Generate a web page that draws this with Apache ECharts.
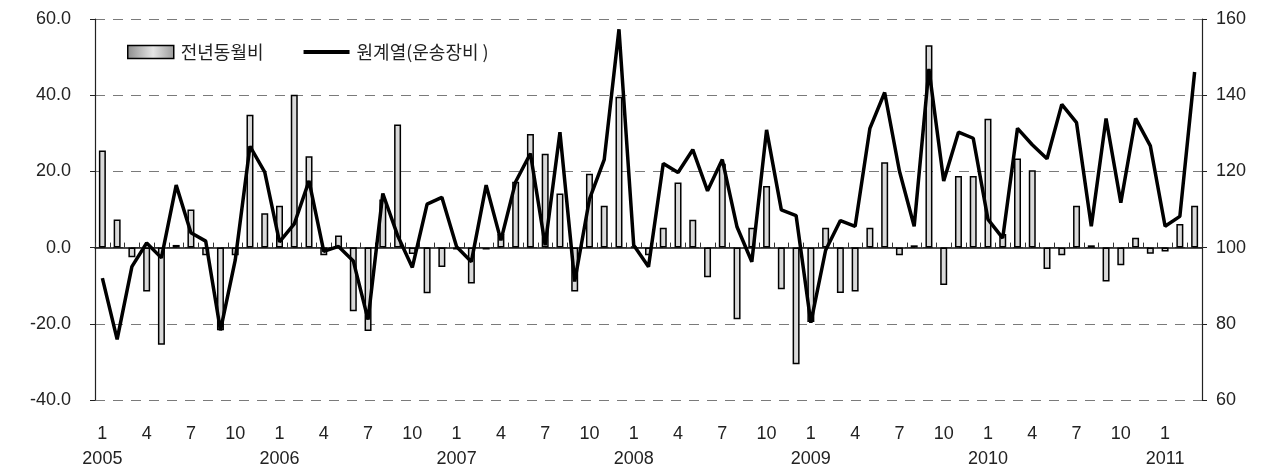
<!DOCTYPE html>
<html>
<head>
<meta charset="utf-8">
<script src="https://cdn.jsdelivr.net/npm/echarts@6/dist/echarts.min.js"></script>
<style>
  html, body { margin: 0; padding: 0; background: #fff; }
  #chart { width: 1264px; height: 472px; }
</style>
</head>
<body>
<div id="chart"></div>
<script>
// 2005.01 ~ 2011.03, monthly
const startYear = 2005;
const monthCount = 75;
const tickMonths = [1, 4, 7, 10];

// 전년동월비 (%), left axis
const yoy = [
  25.5, 7.4, -2.5, -11.5, -25.5, 0.7, 10.0, -2.0, -21.7, -2.0, 34.9, 9.0,
  11.0, 40.1, 24.0, -2.0, 3.2, -16.7, -21.9, 12.6, 32.3, -1.7, -12.0, -5.1,
  -0.5, -9.4, -0.5, 3.6, 17.3, 29.8, 24.6, 14.2, -11.5, 19.4, 11.0, 39.6,
  0.3, -2.0, 5.2, 17.1, 7.3, -7.8, 22.0, -18.8, 5.2, 16.2, -10.9, -30.6,
  -19.5, 5.2, -11.9, -11.5, 5.2, 22.4, -2.0, 0.6, 53.1, -9.8, 18.8, 18.8,
  33.8, 3.6, 23.4, 20.3, -5.6, -2.0, 11.0, 0.6, -8.9, -4.6, 2.6, -1.6,
  -1.0, 6.2, 11.0
];

// 원계열(운송장비), right axis
const raw = [
  92.0, 75.9, 95.0, 101.2, 97.3, 116.4, 103.9, 101.7, 78.3, 96.7, 126.6, 119.8,
  101.5, 106.2, 117.5, 99.0, 100.3, 96.5, 81.1, 114.2, 103.2, 94.8, 111.4, 113.2,
  100.2, 96.3, 116.4, 101.9, 117.3, 124.7, 100.6, 130.3, 91.1, 112.7, 123.1, 157.3,
  100.6, 95.0, 122.1, 119.7, 125.7, 114.9, 123.1, 105.4, 96.3, 130.9, 109.9, 108.4,
  80.3, 99.3, 107.1, 105.6, 131.3, 140.7, 120.1, 105.6, 146.9, 117.5, 130.3, 128.7,
  107.4, 102.5, 131.3, 127.0, 123.3, 137.6, 132.8, 105.6, 133.9, 111.8, 133.9, 126.7,
  105.6, 108.2, 146.1
];

const categories = [];
for (let i = 0; i < monthCount; i++) {
  const y = startYear + Math.floor(i / 12);
  const m = (i % 12) + 1;
  categories.push(y + '-' + (m < 10 ? '0' + m : m));
}

const numFont = 'Liberation Sans';
const krFont = 'Noto Sans CJK KR';

const option = {
  animation: false,
  backgroundColor: '#fff',
  grid: { left: 95, right: 62, top: 19, bottom: 70 },
  legend: {
    left: 122,
    top: 38,
    itemWidth: 46,
    itemHeight: 13,
    itemGap: 40,
    textStyle: { fontFamily: krFont, fontSize: 18, color: '#222', padding: [0, 0, 0, 2] },
    data: [
      {
        name: '전년동월비',
        icon: 'rect',
        itemStyle: {
          color: {
            type: 'linear', x: 0, y: 0, x2: 1, y2: 0,
            colorStops: [
              { offset: 0, color: '#8c8c8c' },
              { offset: 0.55, color: '#e6e6e6' },
              { offset: 1, color: '#9a9a9a' }
            ]
          },
          borderColor: '#000',
          borderWidth: 1.5
        }
      },
      {
        name: '원계열(운송장비 )',
        icon: 'path://M0,0 L48,0 L48,4 L0,4 Z',
        itemStyle: { color: '#000', borderWidth: 0 }
      }
    ]
  },
  xAxis: [
    {
      type: 'category',
      data: categories,
      position: 'bottom',
      axisLine: { onZero: true, lineStyle: { color: '#111', width: 1.5 } },
      axisTick: { show: true, inside: true, length: 5, interval: 0, lineStyle: { color: '#333' } },
      axisLabel: { show: false }
    },
    {
      type: 'category',
      data: categories,
      position: 'bottom',
      axisLine: { show: false, onZero: false },
      axisTick: { show: false },
      axisLabel: {
        interval: 0,
        margin: 22,
        color: '#222',
        fontFamily: numFont,
        fontSize: 18,
        lineHeight: 25,
        formatter: function (v) {
          const y = v.slice(0, 4);
          const m = parseInt(v.slice(5), 10);
          if (tickMonths.indexOf(m) < 0) return '';
          return m === 1 ? m + '\n' + y : String(m);
        }
      }
    }
  ],
  yAxis: [
    {
      type: 'value',
      min: -40,
      max: 60,
      interval: 20,
      axisLine: { show: true, lineStyle: { color: '#222', width: 1.2 } },
      axisTick: { show: true, length: 5, lineStyle: { color: '#222' } },
      axisLabel: {
        margin: 24,
        color: '#222',
        fontFamily: numFont,
        fontSize: 18,
        formatter: function (v) { return v.toFixed(1); }
      },
      splitLine: { show: true, lineStyle: { color: '#7a7a7a', type: [10, 8], width: 1 } }
    },
    {
      type: 'value',
      min: 60,
      max: 160,
      interval: 20,
      position: 'right',
      axisLine: { show: true, lineStyle: { color: '#222', width: 1.2 } },
      axisTick: { show: true, length: 5, lineStyle: { color: '#222' } },
      axisLabel: { margin: 14, color: '#222', fontFamily: numFont, fontSize: 18 },
      splitLine: { show: false }
    }
  ],
  series: [
    {
      name: '전년동월비',
      type: 'bar',
      xAxisIndex: 0,
      yAxisIndex: 0,
      data: yoy,
      barWidth: 7,
      itemStyle: { color: '#d9d9d9', borderColor: '#000', borderWidth: 1.5 }
    },
    {
      name: '원계열(운송장비 )',
      type: 'line',
      xAxisIndex: 0,
      yAxisIndex: 1,
      data: raw,
      symbol: 'none',
      lineStyle: { color: '#000', width: 3.5 },
      itemStyle: { color: '#000' },
      z: 5
    }
  ]
};

const chart = echarts.init(document.getElementById('chart'));
chart.setOption(option);
</script>
</body>
</html>
